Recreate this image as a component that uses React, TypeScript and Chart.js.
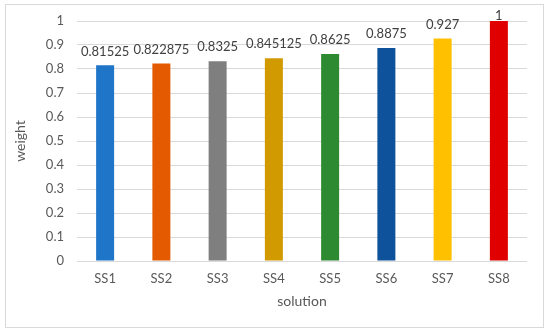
import React, { useEffect, useRef } from "react";
import { Chart, registerables } from "chart.js";

Chart.register(...registerables);

const categories = ["SS1", "SS2", "SS3", "SS4", "SS5", "SS6", "SS7", "SS8"];
const weights = [0.81525, 0.822875, 0.8325, 0.845125, 0.8625, 0.8875, 0.927, 1];
const valueLabels = ["0.81525", "0.822875", "0.8325", "0.845125", "0.8625", "0.8875", "0.927", "1"];
const barColors = ["#1F75C8", "#E35A00", "#7F7F7F", "#D09A00", "#2E8A31", "#0E529C", "#FFC000", "#E00000"];
const yTicks = [0, 0.1, 0.2, 0.3, 0.4, 0.5, 0.6, 0.7, 0.8, 0.9, 1];

const FONT = "Lato, 'Liberation Sans', sans-serif";

const labelPlugin = {
  id: "valueLabels",
  afterDatasetsDraw(chart: any) {
    const ctx = chart.ctx;
    const meta = chart.getDatasetMeta(0);
    ctx.save();
    ctx.font = `13px ${FONT}`;
    ctx.fillStyle = "#404040";
    ctx.textAlign = "center";
    ctx.textBaseline = "middle";
    meta.data.forEach((bar: any, i: number) => {
      const y = Math.max(bar.y - 14, chart.chartArea.top - 5);
      ctx.fillText(valueLabels[i], bar.x, y);
    });
    ctx.restore();
  },
};

export default function App() {
  const ref = useRef<HTMLCanvasElement>(null);
  useEffect(() => {
    document.body.style.margin = "0";
    const chart = new Chart(ref.current!, {
      type: "bar",
      data: {
        labels: categories,
        datasets: [
          {
            data: weights,
            backgroundColor: barColors,
            borderWidth: 0,
            categoryPercentage: 1,
            barPercentage: 0.32,
          },
        ],
      },
      options: {
        animation: false,
        responsive: false,
        maintainAspectRatio: false,
        layout: { padding: { left: 12, top: 21, right: 23, bottom: 0 } },
        plugins: { legend: { display: false }, tooltip: { enabled: false } },
        scales: {
          x: {
            grid: { display: false, drawTicks: false },
            border: { display: false },
            ticks: { color: "#595959", font: { family: FONT, size: 13 }, padding: 10 },
            title: {
              display: true,
              text: "solution",
              color: "#595959",
              font: { family: FONT, size: 14 },
              padding: { top: 0, bottom: 24 },
            },
            afterFit: (s: any) => {
              s.height = 73;
            },
          },
          y: {
            min: 0,
            max: 1,
            afterBuildTicks: (s: any) => {
              s.ticks = yTicks.map((v) => ({ value: v }));
            },
            grid: { color: "#D9D9D9", lineWidth: 1, drawTicks: false },
            border: { display: false },
            ticks: {
              color: "#595959",
              font: { family: FONT, size: 13 },
              padding: 13,
              callback: (v: any) => String(Math.round(Number(v) * 10) / 10),
            },
            title: {
              display: true,
              text: "weight",
              color: "#595959",
              font: { family: FONT, size: 14 },
              padding: { top: 0, bottom: 0 },
            },
            afterFit: (s: any) => {
              s.width = 65;
            },
          },
        },
      },
      plugins: [labelPlugin],
    });
    return () => chart.destroy();
  }, []);
  return (
    <div style={{ position: "relative", width: 550, height: 334, background: "#fff" }}>
      <canvas ref={ref} width={550} height={334} style={{ position: "absolute", left: 0, top: 0 }} />
      <div
        style={{
          position: "absolute",
          left: 5,
          top: 4,
          width: 537,
          height: 322,
          border: "1px solid #D9D9D9",
          pointerEvents: "none",
        }}
      />
    </div>
  );
}
